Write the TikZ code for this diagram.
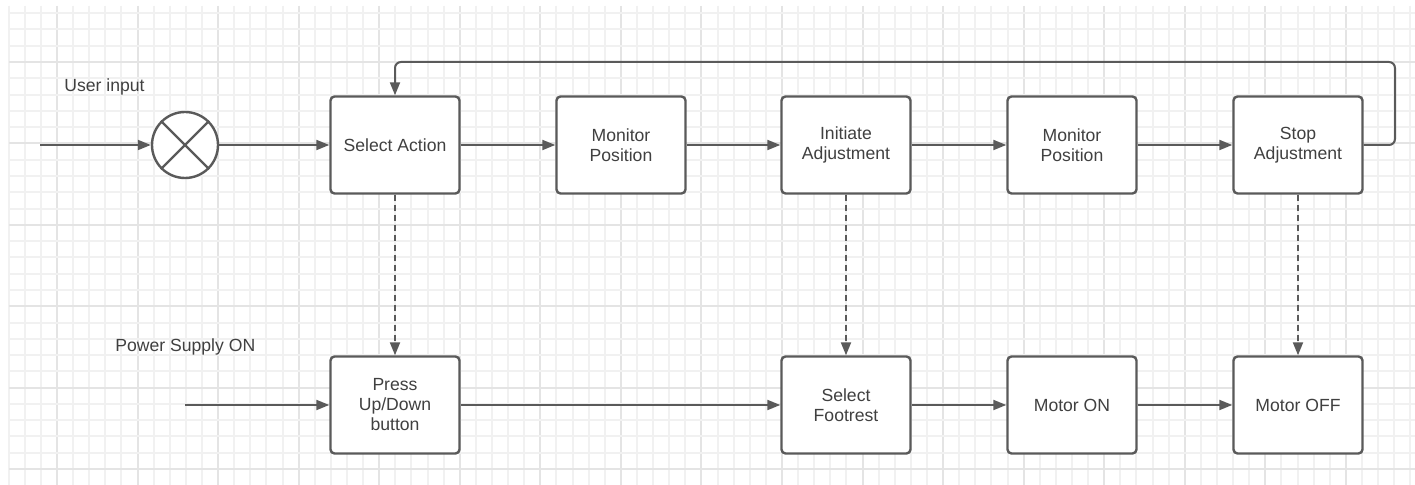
\documentclass[tikz,border=0pt]{standalone}
\usepackage{fontspec}
\setmainfont{Liberation Sans}
\usetikzlibrary{arrows.meta}
\definecolor{gmin}{HTML}{F1F1F1}
\definecolor{gmaj}{HTML}{E4E4E4}
\definecolor{ln}{HTML}{5A5A5A}
\definecolor{tx}{HTML}{404040}
\tikzset{
  blk/.style={draw=ln, line width=1.2pt, rounded corners=2pt, fill=white,
    minimum width=64.5pt, minimum height=48.5pt, inner sep=1pt,
    align=center, text=tx, font=\fontsize{8.8}{10}\selectfont},
  conn/.style={draw=ln, line width=1pt, -{Triangle[length=6.5pt,width=5pt]}},
  dconn/.style={conn, line width=1pt, dash pattern=on 3pt off 2pt},
  lbl/.style={text=tx, font=\fontsize{8.8}{10}\selectfont, inner sep=0pt, anchor=west},
  gridmin/.style={draw=gmin, line width=1pt},
  gridmaj/.style={draw=gmaj, line width=1pt}
}
\begin{document}
\begin{tikzpicture}[x=0.5pt,y=-0.5pt]
\useasboundingbox (0,0) rectangle (1415,485);
\fill[white] (0,0) rectangle (1415,485);
% grid
\foreach \k in {0,...,87}{
  \pgfmathtruncatemacro\xx{round(8.7+16.11*\k)}
  \pgfmathtruncatemacro\m{mod(\k,5)}
  \ifnum\m=3 \draw[gridmaj] (\xx,6) -- (\xx,485);
  \else \draw[gridmin] (\xx,6) -- (\xx,485); \fi
}
\foreach \k in {0,...,28}{
  \pgfmathtruncatemacro\yy{round(13.2+16.28*\k)}
  \pgfmathtruncatemacro\m{mod(\k,5)}
  \ifnum\m=3 \draw[gridmaj] (9,\yy) -- (1415,\yy);
  \else \draw[gridmin] (9,\yy) -- (1415,\yy); \fi
}
% nodes
\node[blk] (sa) at (395,145) {Select Action};
\node[blk] (mp1) at (621,145) {Monitor\\Position};
\node[blk] (ia) at (846,145) {Initiate\\Adjustment};
\node[blk] (mp2) at (1072,145) {Monitor\\Position};
\node[blk] (st) at (1298,145) {Stop\\Adjustment};
\node[blk] (pu) at (395,405) {Press\\Up/Down\\button};
\node[blk] (sf) at (846,405) {Select\\Footrest};
\node[blk] (mon) at (1072,405) {Motor ON};
\node[blk] (moff) at (1298,405) {Motor OFF};
\node[circle, draw=ln, line width=1.2pt, minimum size=33pt, inner sep=0pt, fill=white] (sum) at (185,145) {};
\draw[ln, line width=1.1pt] (sum.45) -- (sum.225) (sum.135) -- (sum.315);
\node[lbl] (ui) at (64,87) {User input};
\node[lbl] (ps) at (115,347) {Power Supply ON};
\coordinate (in1) at (40,145);
\coordinate (in2) at (185,405);
\coordinate (fbr) at (1395,62);
% connectors
\draw[conn] (in1) -- (sum);
\draw[conn] (sum) -- (sa);
\draw[conn] (sa) -- (mp1);
\draw[conn] (mp1) -- (ia);
\draw[conn] (ia) -- (mp2);
\draw[conn] (mp2) -- (st);
\draw[conn, rounded corners=3pt] (st.east) -| (fbr) -| (sa.north);
\draw[conn] (in2) -- (pu);
\draw[conn] (pu) -- (sf);
\draw[conn] (sf) -- (mon);
\draw[conn] (mon) -- (moff);
\draw[dconn] (sa) -- (pu);
\draw[dconn] (ia) -- (sf);
\draw[dconn] (st) -- (moff);
\end{tikzpicture}
\end{document}
